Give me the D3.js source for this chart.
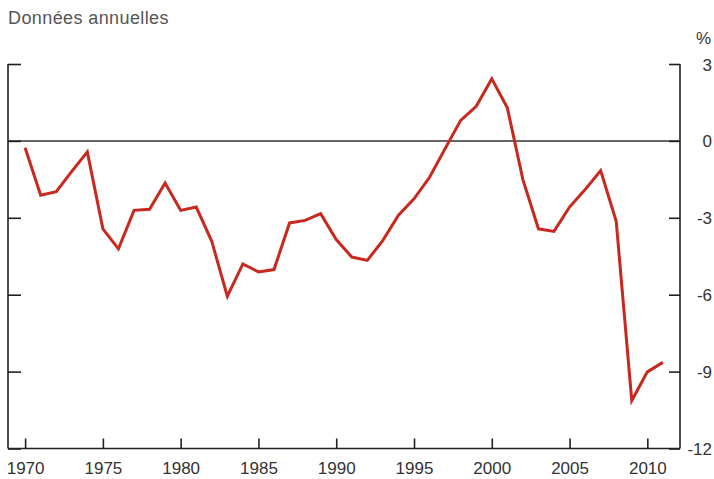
<!DOCTYPE html>
<html>
<head>
<meta charset="utf-8">
<script src="https://cdn.jsdelivr.net/npm/d3@7"></script>
<style>
  body { margin: 0; background: #fff; }
  svg { display: block; font-family: "Liberation Sans", Helvetica, Arial, sans-serif; }
</style>
</head>
<body>
<div id="chart"></div>
<script>
// Annual data, percent
const years = d3.range(1970, 2012);
const values = [
  -0.27, -2.12, -1.98, -1.19, -0.43, -3.43, -4.21, -2.71, -2.67, -1.64,
  -2.71, -2.58, -3.92, -6.06, -4.80, -5.11, -5.02, -3.20, -3.10, -2.84,
  -3.85, -4.53, -4.66, -3.88, -2.90, -2.26, -1.42, -0.30, 0.80, 1.35,
  2.42, 1.29, -1.51, -3.43, -3.53, -2.58, -1.90, -1.16, -3.14, -10.13,
  -9.01, -8.64
];
const yTicks = [3, 0, -3, -6, -9, -12];
const xTicks = [1970, 1975, 1980, 1985, 1990, 1995, 2000, 2005, 2010];

const width = 714;
const height = 479;
const plotLeft = 8, plotRight = 680, plotTop = 64, plotBottom = 448.5;

const x = d3.scaleLinear().domain([1968.9, 2012.1]).range([plotLeft, plotRight]);
const y = d3.scaleLinear().domain([-12, 3]).range([plotBottom, plotTop]);

const svg = d3.select("#chart").append("svg")
    .attr("width", width)
    .attr("height", height);

const axisColor = "#231f20";
const labelFont = "'Liberation Sans', Helvetica, Arial, sans-serif";

// Title
svg.append("text")
    .attr("x", 8)
    .attr("y", 23.5)
    .attr("fill", "#555")
    .style("font-size", "18px")
    .style("letter-spacing", "0.4px")
    .text("Données annuelles");

svg.append("text")
    .attr("x", 711)
    .attr("y", 44)
    .attr("text-anchor", "end")
    .attr("fill", "#333")
    .style("font-size", "17px")
    .text("%");

// Zero line
svg.append("line")
    .attr("x1", plotLeft).attr("x2", plotRight)
    .attr("y1", y(0)).attr("y2", y(0))
    .attr("stroke", "#333")
    .attr("stroke-width", 1.5);

// Left axis (ticks inward)
const leftAxis = svg.append("g")
    .attr("transform", `translate(${plotLeft},0)`)
    .call(d3.axisRight(y).tickValues(yTicks).tickSize(13).tickSizeOuter(0).tickFormat(""));
leftAxis.select(".domain").remove();
leftAxis.append("line")
    .attr("y1", plotTop).attr("y2", plotBottom)
    .attr("stroke", axisColor).attr("stroke-width", 1.6);

// Right axis (ticks inward, labels outside)
const rightAxis = svg.append("g")
    .attr("transform", `translate(${plotRight},0)`)
    .call(d3.axisLeft(y).tickValues(yTicks).tickSize(11).tickSizeOuter(0).tickFormat(d => String(d)));
rightAxis.select(".domain").remove();
rightAxis.append("line")
    .attr("y1", plotTop).attr("y2", plotBottom)
    .attr("stroke", axisColor).attr("stroke-width", 1.6);
rightAxis.selectAll(".tick text")
    .attr("x", 32)
    .attr("dy", null)
    .attr("y", 6)
    .attr("text-anchor", "end")
    .attr("fill", "#333")
    .style("font-size", "17px")
    .style("font-family", labelFont);

// Bottom axis (ticks upward)
const bottomAxis = svg.append("g")
    .attr("transform", `translate(0,${plotBottom})`)
    .call(d3.axisTop(x).tickValues(xTicks).tickSize(10).tickSizeOuter(0).tickFormat(d => String(d)));
bottomAxis.select(".domain").remove();
bottomAxis.append("line")
    .attr("x1", plotLeft).attr("x2", plotRight)
    .attr("stroke", axisColor).attr("stroke-width", 1.6);
bottomAxis.selectAll(".tick text")
    .attr("y", 25.5)
    .attr("dy", null)
    .attr("fill", "#333")
    .style("font-size", "17px")
    .style("font-family", labelFont);

svg.selectAll(".tick line")
    .attr("stroke", axisColor)
    .attr("stroke-width", 1.6);

// Series line
const line = d3.line()
    .x((d, i) => x(years[i]))
    .y(d => y(d));

svg.append("path")
    .datum(values)
    .attr("fill", "none")
    .attr("stroke", "#c8281e")
    .attr("stroke-width", 3)
    .attr("stroke-linejoin", "miter")
    .attr("d", line);
</script>
</body>
</html>
